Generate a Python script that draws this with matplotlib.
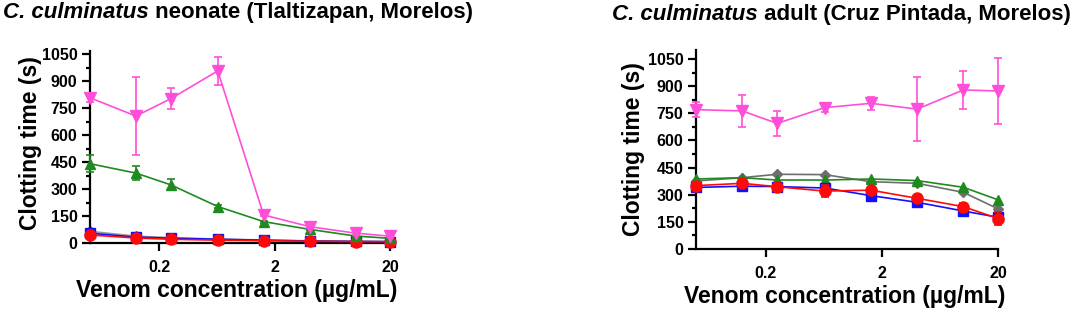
import matplotlib.pyplot as plt
import numpy as np

plt.rcParams['font.family'] = ['Liberation Sans', 'DejaVu Sans']
plt.rcParams['font.weight'] = 'bold'

conc = [0.05, 0.125, 0.25, 0.64, 1.6, 4, 10, 20]

# neonate (Tlaltizapan)
neo_magenta = [808, 706, 802, 957, 156, 91, 55, 38]
neo_magenta_err = [25, 215, 58, 80, 8, 8, 8, 6]
neo_green = [441, 389, 324, 203, 119, 76, 39, 26]
neo_green_err = [47, 39, 31, 8, 6, 6, 4, 3]
neo_gray = [65, 38, 30, 22, 17, 12, 9, 7]
neo_blue = [55, 33, 27, 21, 16, 11, 9, 8]
neo_red = [45, 28, 21, 16, 13, 10, 8, 7]

# adult (Cruz Pintada)
ad_magenta = [770, 763, 694, 781, 805, 773, 879, 873]
ad_magenta_err = [40, 87, 70, 22, 37, 175, 105, 183]
ad_green = [387, 394, 381, 381, 387, 378, 341, 271]
ad_gray = [376, 394, 413, 411, 372, 363, 313, 221]
ad_blue = [340, 347, 345, 337, 295, 258, 210, 175]
ad_blue_err = [8, 22, 8, 8, 6, 6, 6, 10]
ad_red = [350, 363, 344, 320, 325, 280, 234, 168]
ad_red_err = [8, 8, 8, 35, 20, 8, 18, 34]

MAG = '#ff4fd8'
GRN = '#1f8a1f'
GRY = '#6e6e6e'
BLU = '#1010ff'
RED = '#ff0a0a'

fig = plt.figure(figsize=(10.84, 3.14), dpi=100)
ax1 = fig.add_axes([0.083, 0.226, 0.277, 0.61])
ax2 = fig.add_axes([0.642, 0.207, 0.279, 0.634])


def series(ax, y, err, color, marker, ms=7, z=2):
    ax.errorbar(conc, y, yerr=err, color=color, marker=marker, ms=ms, lw=1.2,
                elinewidth=1.2, capsize=3, capthick=1.2, zorder=z, clip_on=False)


series(ax1, neo_gray, None, '#999999', 'D', 5, 2)
ax1.lines[-1].set_markerfacecolor(GRY)
ax1.lines[-1].set_markeredgecolor(GRY)
series(ax1, neo_blue, None, BLU, 's', 7, 3)
series(ax1, neo_red, None, RED, 'o', 8, 4)
series(ax1, neo_green, neo_green_err, GRN, '^', 7, 5)
series(ax1, neo_magenta, neo_magenta_err, MAG, 'v', 8, 6)

series(ax2, ad_gray, None, GRY, 'D', 5, 2)
series(ax2, ad_green, None, GRN, '^', 7, 3)
series(ax2, ad_blue, ad_blue_err, BLU, 's', 7, 4)
series(ax2, ad_red, ad_red_err, RED, 'o', 8, 5)
series(ax2, ad_magenta, ad_magenta_err, MAG, 'v', 8, 6)

label_pos = {ax1: ((-0.197, 0.52), (0.49, -0.246)),
             ax2: ((-0.205, 0.50), (0.493, -0.241))}

for ax, top in ((ax1, 1065), (ax2, 1100)):
    ax.set_xscale('log')
    ax.set_xlim(0.05, 20)
    ax.set_ylim(0, top)
    ax.set_xticks([0.2, 2, 20])
    ax.set_xticklabels(['0.2', '2', '20'])
    ax.xaxis.set_minor_locator(plt.NullLocator())
    ax.set_yticks(np.arange(0, 1051, 150))
    ax.set_yticks(np.arange(75, 1051, 150), minor=True)
    for s in ('top', 'right'):
        ax.spines[s].set_visible(False)
    for s in ('left', 'bottom'):
        ax.spines[s].set_linewidth(1.6)
    ax.tick_params(axis='both', which='major', length=6, width=1.6, labelsize=11.5, pad=3)
    ax.tick_params(axis='x', pad=6)
    ax.tick_params(axis='y', which='minor', length=3, width=1.6)
    for lab in ax.get_xticklabels() + ax.get_yticklabels():
        lab.set_fontweight('bold')
    ax.set_ylabel('Clotting time (s)', fontsize=16.5, fontweight='bold', va='center')
    ax.set_xlabel('Venom concentration (µg/mL)', fontsize=16.5, fontweight='bold', va='center')
    yl, xl = label_pos[ax]
    ax.yaxis.set_label_coords(*yl)
    ax.xaxis.set_label_coords(*xl)

t1 = fig.text(0.003, 0.96, 'C. culminatus', fontsize=16, fontweight='bold',
              style='italic', va='center', ha='left')
t2 = fig.text(0.5646, 0.955, 'C. culminatus', fontsize=16, fontweight='bold',
              style='italic', va='center', ha='left')

# upright parts follow the italic species names
ax1.annotate(' neonate (Tlaltizapan, Morelos)', xy=(1, 0), xycoords=t1,
             fontsize=16, fontweight='bold', va='bottom', ha='left', annotation_clip=False)
ax2.annotate(' adult (Cruz Pintada, Morelos)', xy=(1, 0), xycoords=t2,
             fontsize=16, fontweight='bold', va='bottom', ha='left', annotation_clip=False)

fig.savefig('out.png', dpi=100)
